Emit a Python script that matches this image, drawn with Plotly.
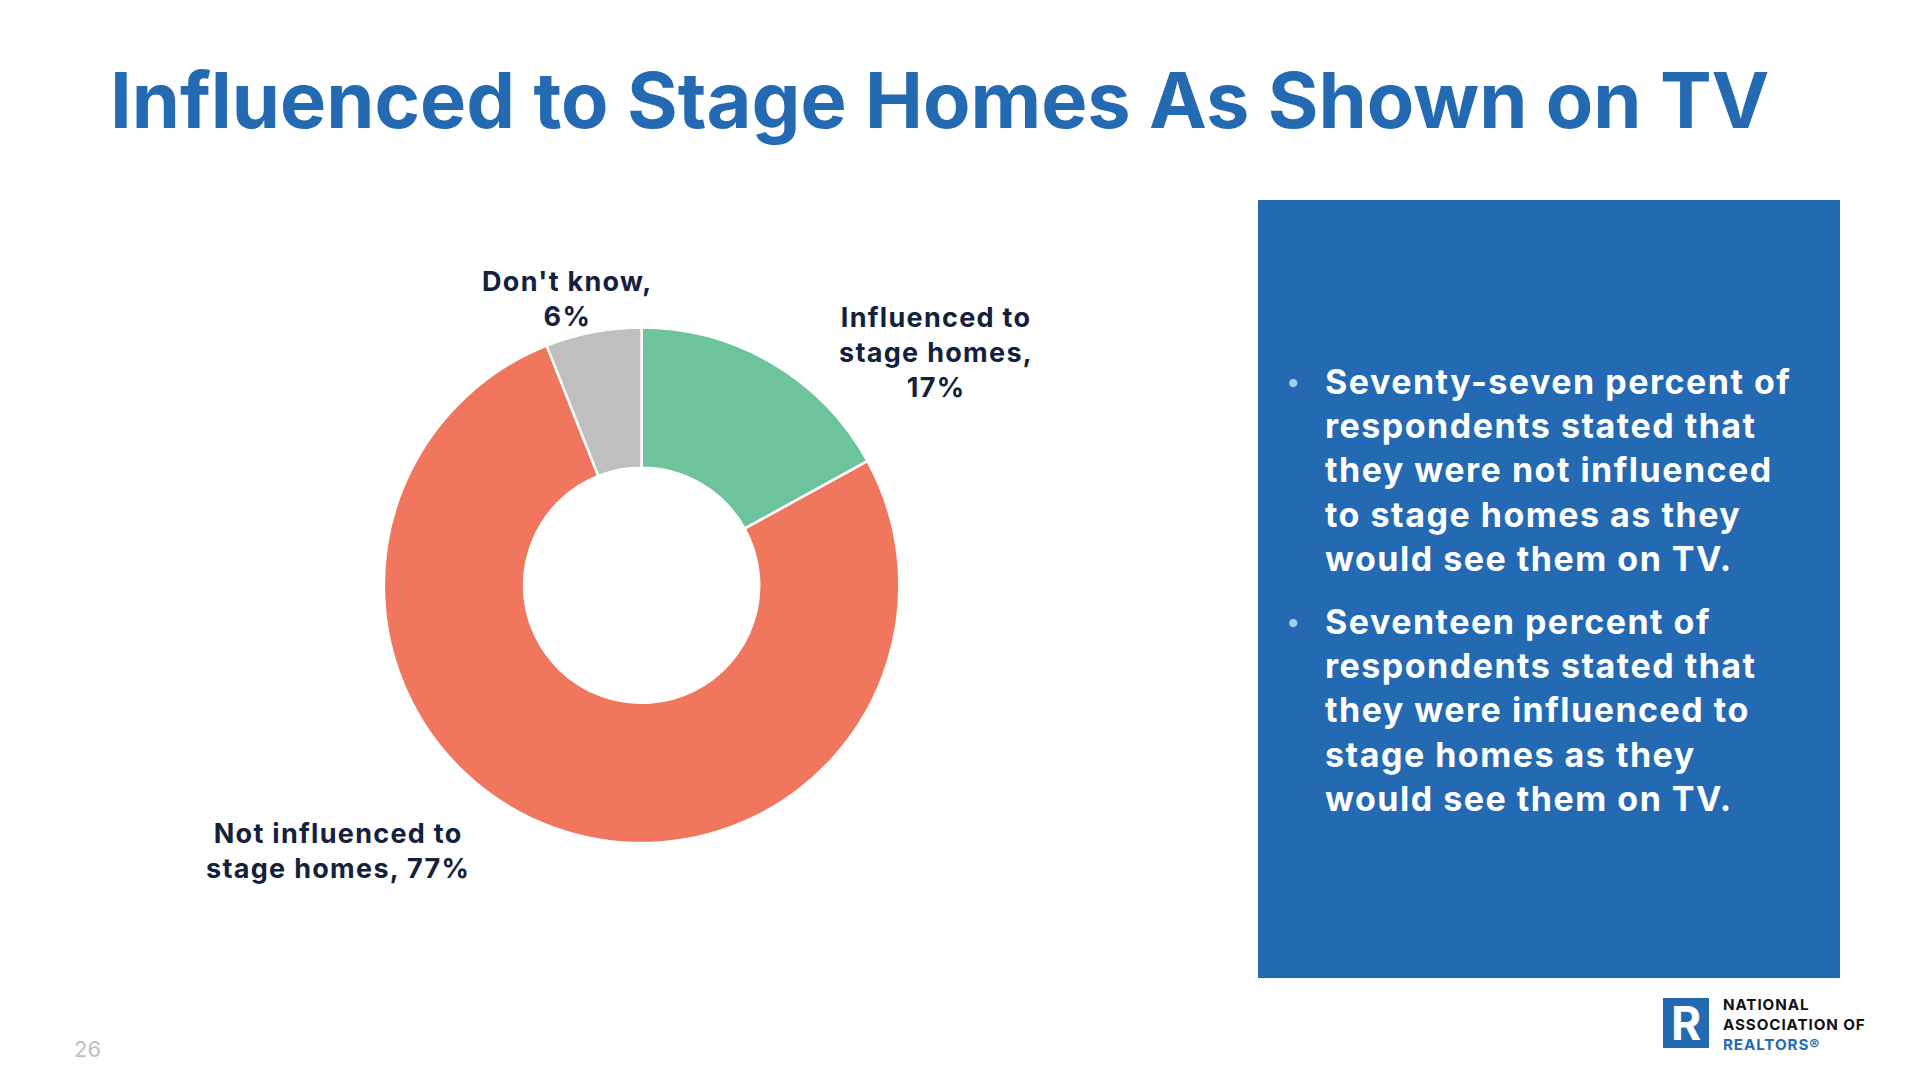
import plotly.graph_objects as go

# ---- data ----
categories = ["Influenced to stage homes", "Not influenced to stage homes", "Don't know"]
values = [17, 77, 6]
colors = ["#6DC39B", "#F0765E", "#BFBFBF"]
label_lines = [["Influenced to", "stage homes,", "17%"],
               ["Not influenced to", "stage homes, 77%"],
               ["Don't know,", "6%"]]
title_text = "Influenced to Stage Homes As Shown on TV"
bullets = [
    ["Seventy-seven percent of", "respondents stated that", "they were not influenced",
     "to stage homes as they", "would see them on TV."],
    ["Seventeen percent of", "respondents stated that", "they were influenced to",
     "stage homes as they", "would see them on TV."],
]
logo_lines = ["NATIONAL", "ASSOCIATION OF", "REALTORS®"]
page_number = "26"

W, H = 1920, 1080
FONT = "Inter"
BLUE = "#236AB3"
NAVY = "#13213C"


def px(x):
    return x / W


def py(y):
    return 1 - y / H


def spaced(lines, ls, colors_=None):
    out = []
    for i, l in enumerate(lines):
        st = f"letter-spacing:{ls}px"
        if colors_ and colors_[i]:
            st += f";color:{colors_[i]}"
        out.append(f"<span style='{st}'>{l}</span>")
    return "<br>".join(out)


fig = go.Figure()

# donut
cx, cy, r = 641.6, 585.3, 257.8
fig.add_trace(go.Pie(
    labels=categories, values=values, sort=False, direction="clockwise",
    rotation=0, hole=0.456,
    marker=dict(colors=colors, line=dict(color="white", width=2.5)),
    textinfo="none", hoverinfo="label+percent", showlegend=False,
    domain=dict(x=[px(cx - r), px(cx + r)], y=[py(cy + r), py(cy - r)]),
))

annotations = []


def add_text(t, x, y, size, color, xanchor="left", align="left", weight="bold"):
    annotations.append(dict(text=t, x=px(x), y=py(y), xref="paper", yref="paper",
                            xanchor=xanchor, yanchor="middle", align=align,
                            showarrow=False,
                            font=dict(family=FONT, size=size, color=color, weight=weight)))


# title
add_text(title_text, 108, 100, 77.5, BLUE)

# slice labels
label_pos = [(936, 352.5), (338, 851), (567, 298.5)]
for lines, (x, y) in zip(label_lines, label_pos):
    add_text(spaced(lines, 1.3), x, y, 27, NAVY, xanchor="center", align="center")

# bullet text box
BSIZE = 34
bullet_center = [469.5, 709.5]
for lines, yc in zip(bullets, bullet_center):
    first_line_y = yc - (len(lines) - 1) / 2 * BSIZE * 1.3
    add_text("•", 1293, first_line_y, 26, "#A9CBEA", xanchor="center", align="center")
    add_text(spaced(lines, 1.5), 1323, yc, BSIZE, "white")

# page number
add_text(page_number, 72, 1049, 22, "#BFBFBF", weight="normal")

# logo
add_text(spaced(logo_lines, 0.9, [None, None, BLUE]), 1721, 1024, 15.2, "#111111")
add_text("R", 1686, 1023, 46, "white", xanchor="center", align="center")

shapes = [
    dict(type="rect", xref="paper", yref="paper", x0=px(1258), x1=px(1840),
         y0=py(978), y1=py(200), fillcolor=BLUE, line=dict(width=0), layer="below"),
    dict(type="rect", xref="paper", yref="paper", x0=px(1663), x1=px(1709),
         y0=py(1048), y1=py(998), fillcolor=BLUE, line=dict(width=0), layer="below"),
]

fig.update_layout(
    width=W, height=H, margin=dict(l=0, r=0, t=0, b=0),
    paper_bgcolor="white", plot_bgcolor="white",
    annotations=annotations, shapes=shapes,
    font=dict(family=FONT),
)

fig.write_html("out.html", config={"displayModeBar": False},
               post_script="document.body.style.margin='0px';")
